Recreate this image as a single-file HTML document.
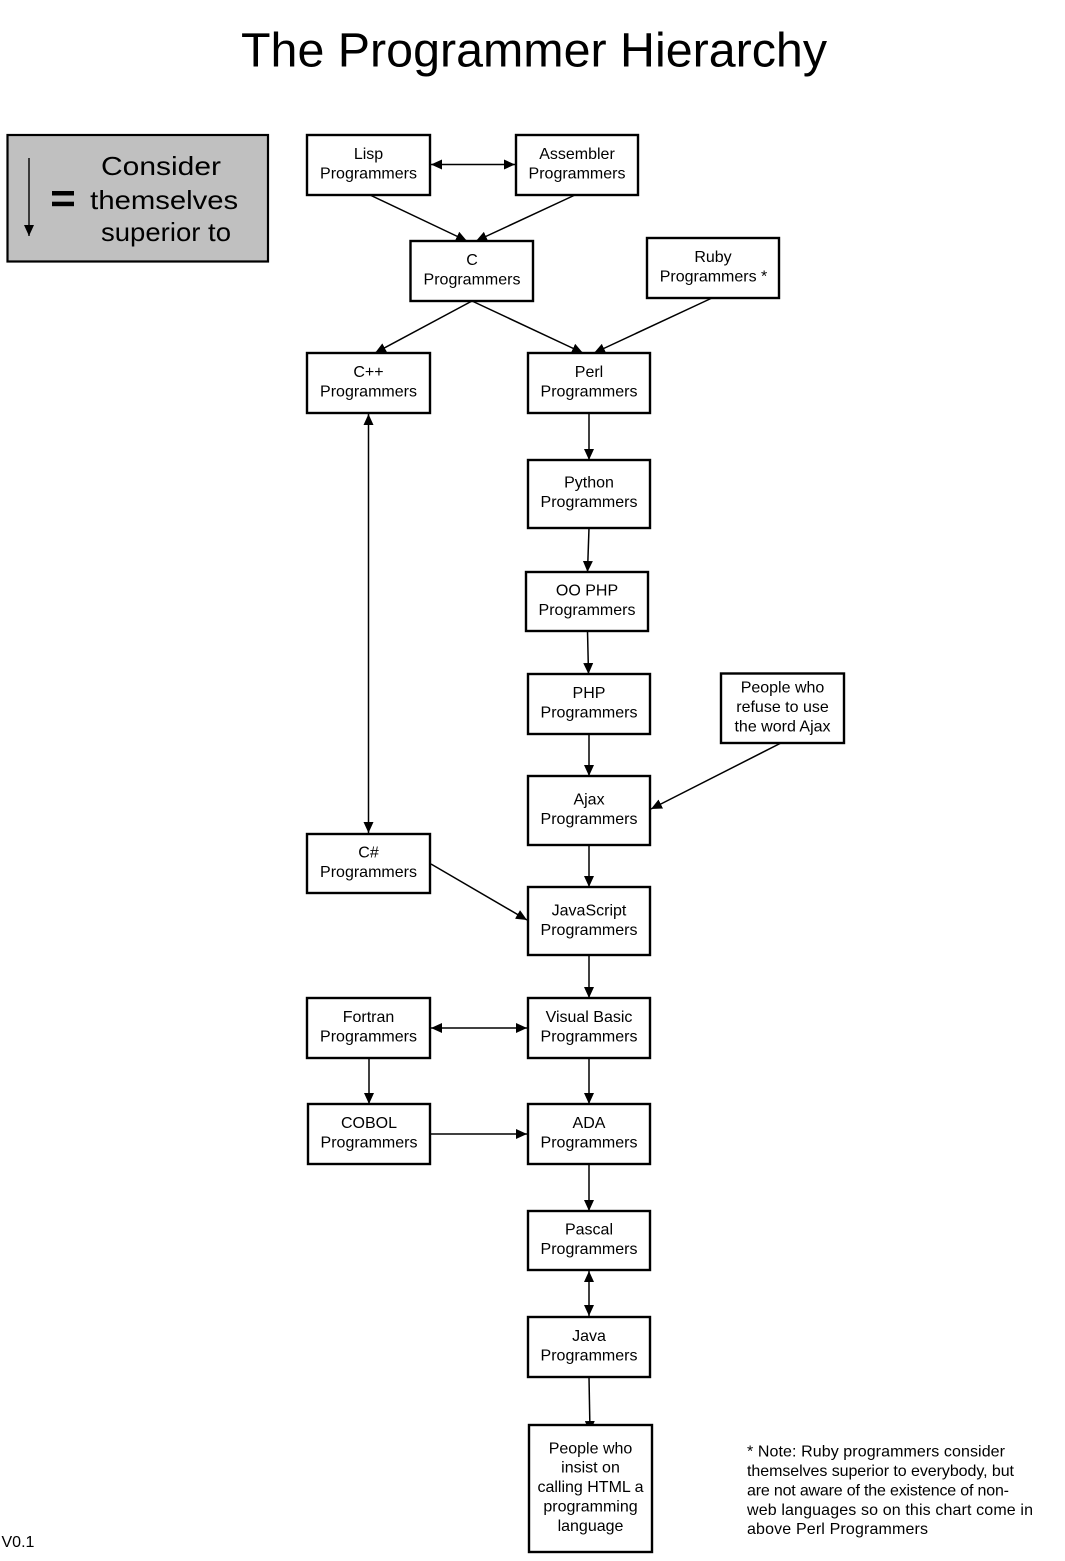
<!DOCTYPE html>
<html>
<head>
<meta charset="utf-8">
<style>
html,body{margin:0;padding:0;background:#fff;}
svg{display:block;}
text{font-family:"Liberation Sans",Arial,sans-serif;fill:#000;}
</style>
</head>
<body>
<svg width="1065" height="1561" viewBox="0 0 1065 1561" xmlns="http://www.w3.org/2000/svg">
<defs>
<marker id="ah" viewBox="0 0 11 10" refX="11" refY="5" markerWidth="11" markerHeight="10" markerUnits="userSpaceOnUse" orient="auto-start-reverse">
<path d="M0,0 L11,5 L0,10 z" fill="#000"/>
</marker>
</defs>

<!-- Title -->
<text x="534" y="66.5" font-size="48" text-anchor="middle" textLength="586" lengthAdjust="spacingAndGlyphs">The Programmer Hierarchy</text>

<!-- Legend -->
<rect x="7.5" y="135" width="260.5" height="126.5" fill="#c0c0c0" stroke="#000" stroke-width="2.2"/>
<line x1="29" y1="158" x2="29" y2="236" stroke="#000" stroke-width="1.4" marker-end="url(#ah)"/>
<rect x="52" y="191" width="22" height="4.5" fill="#000"/>
<rect x="52" y="201.7" width="22" height="4.5" fill="#000"/>
<text x="161" y="175" font-size="26" text-anchor="middle" textLength="120" lengthAdjust="spacingAndGlyphs">Consider</text>
<text x="164.2" y="209" font-size="26" text-anchor="middle" textLength="148" lengthAdjust="spacingAndGlyphs">themselves</text>
<text x="166" y="241" font-size="26" text-anchor="middle" textLength="130" lengthAdjust="spacingAndGlyphs">superior to</text>

<!-- Connectors -->
<g stroke="#000" stroke-width="1.5" fill="none">
<line x1="431" y1="164.5" x2="515" y2="164.5" marker-start="url(#ah)" marker-end="url(#ah)"/>
<line x1="370" y1="195" x2="467" y2="241" marker-end="url(#ah)"/>
<line x1="575" y1="195" x2="476" y2="241" marker-end="url(#ah)"/>
<line x1="472" y1="301" x2="375" y2="353" marker-end="url(#ah)"/>
<line x1="472" y1="301" x2="583" y2="353" marker-end="url(#ah)"/>
<line x1="712" y1="298" x2="594" y2="353" marker-end="url(#ah)"/>
<line x1="589" y1="413" x2="589" y2="460" marker-end="url(#ah)"/>
<line x1="589" y1="528" x2="587.5" y2="572" marker-end="url(#ah)"/>
<line x1="587.5" y1="631" x2="588.5" y2="674" marker-end="url(#ah)"/>
<line x1="368.5" y1="414" x2="368.5" y2="833" marker-start="url(#ah)" marker-end="url(#ah)"/>
<line x1="589" y1="734" x2="589" y2="776" marker-end="url(#ah)"/>
<line x1="781" y1="743" x2="651" y2="809" marker-end="url(#ah)"/>
<line x1="589" y1="845" x2="589" y2="887" marker-end="url(#ah)"/>
<line x1="431" y1="864" x2="527" y2="920" marker-end="url(#ah)"/>
<line x1="589" y1="955" x2="589" y2="998" marker-end="url(#ah)"/>
<line x1="431" y1="1028" x2="527" y2="1028" marker-start="url(#ah)" marker-end="url(#ah)"/>
<line x1="369" y1="1058" x2="369" y2="1104" marker-end="url(#ah)"/>
<line x1="589" y1="1058" x2="589" y2="1104" marker-end="url(#ah)"/>
<line x1="430" y1="1134" x2="527" y2="1134" marker-end="url(#ah)"/>
<line x1="589" y1="1164" x2="589" y2="1211" marker-end="url(#ah)"/>
<line x1="589" y1="1271" x2="589" y2="1316" marker-start="url(#ah)" marker-end="url(#ah)"/>
<line x1="589" y1="1377" x2="590" y2="1432" marker-end="url(#ah)"/>
</g>

<!-- Boxes -->
<g fill="#fff" stroke="#000" stroke-width="2.4">
<rect x="307" y="135" width="123" height="60"/>
<rect x="516" y="135" width="122" height="60"/>
<rect x="410.5" y="241" width="122.5" height="60"/>
<rect x="647" y="238" width="132" height="60"/>
<rect x="307" y="353" width="123" height="60"/>
<rect x="528" y="353" width="122" height="60"/>
<rect x="528" y="460" width="122" height="68"/>
<rect x="526" y="572" width="122" height="59"/>
<rect x="528" y="674" width="122" height="60"/>
<rect x="721" y="673.5" width="123" height="69.5"/>
<rect x="528" y="776" width="122" height="69"/>
<rect x="307" y="834" width="123" height="59"/>
<rect x="528" y="887" width="122" height="68"/>
<rect x="307" y="998" width="123" height="60"/>
<rect x="528" y="998" width="122" height="60"/>
<rect x="308" y="1104" width="122" height="60"/>
<rect x="528" y="1104" width="122" height="60"/>
<rect x="528" y="1211" width="122" height="59"/>
<rect x="528" y="1317" width="122" height="60"/>
<rect x="529" y="1425" width="123" height="127"/>
</g>

<!-- Box labels -->
<g font-size="16" text-anchor="middle">
<text x="368.5" y="159">Lisp</text><text x="368.5" y="178.6">Programmers</text>
<text x="577" y="159">Assembler</text><text x="577" y="178.6">Programmers</text>
<text x="472" y="265">C</text><text x="472" y="284.6">Programmers</text>
<text x="713" y="262">Ruby</text><text x="713.5" y="281.6">Programmers *</text>
<text x="368.5" y="377">C++</text><text x="368.5" y="396.6">Programmers</text>
<text x="589" y="377">Perl</text><text x="589" y="396.6">Programmers</text>
<text x="589" y="487.5">Python</text><text x="589" y="507">Programmers</text>
<text x="587" y="595.5">OO PHP</text><text x="587" y="615">Programmers</text>
<text x="589" y="698">PHP</text><text x="589" y="717.6">Programmers</text>
<text x="782.5" y="692.3">People who</text><text x="782.5" y="711.8">refuse to use</text><text x="782.5" y="731.3">the word Ajax</text>
<text x="589" y="804.5">Ajax</text><text x="589" y="824">Programmers</text>
<text x="368.5" y="857.5">C#</text><text x="368.5" y="877">Programmers</text>
<text x="589" y="915.5">JavaScript</text><text x="589" y="935">Programmers</text>
<text x="368.5" y="1022">Fortran</text><text x="368.5" y="1041.6">Programmers</text>
<text x="589" y="1022">Visual Basic</text><text x="589" y="1041.6">Programmers</text>
<text x="369" y="1128">COBOL</text><text x="369" y="1147.6">Programmers</text>
<text x="589" y="1128">ADA</text><text x="589" y="1147.6">Programmers</text>
<text x="589" y="1234.5">Pascal</text><text x="589" y="1254">Programmers</text>
<text x="589" y="1341">Java</text><text x="589" y="1360.6">Programmers</text>
<text x="590.5" y="1453.3">People who</text>
<text x="590.5" y="1472.6">insist on</text>
<text x="590.5" y="1492">calling HTML a</text>
<text x="590.5" y="1511.4">programming</text>
<text x="590.5" y="1530.8">language</text>
</g>

<!-- Note -->
<g font-size="16">
<text x="747" y="1456.5" textLength="258" lengthAdjust="spacing">* Note: Ruby programmers consider</text>
<text x="747" y="1476" textLength="267" lengthAdjust="spacing">themselves superior to everybody, but</text>
<text x="747" y="1495.3" textLength="262" lengthAdjust="spacing">are not aware of the existence of non-</text>
<text x="747" y="1515" textLength="286" lengthAdjust="spacing">web languages so on this chart come in</text>
<text x="747" y="1534" textLength="181" lengthAdjust="spacing">above Perl Programmers</text>
</g>

<!-- Version -->
<text x="1.5" y="1547" font-size="16">V0.1</text>
</svg>
</body>
</html>
